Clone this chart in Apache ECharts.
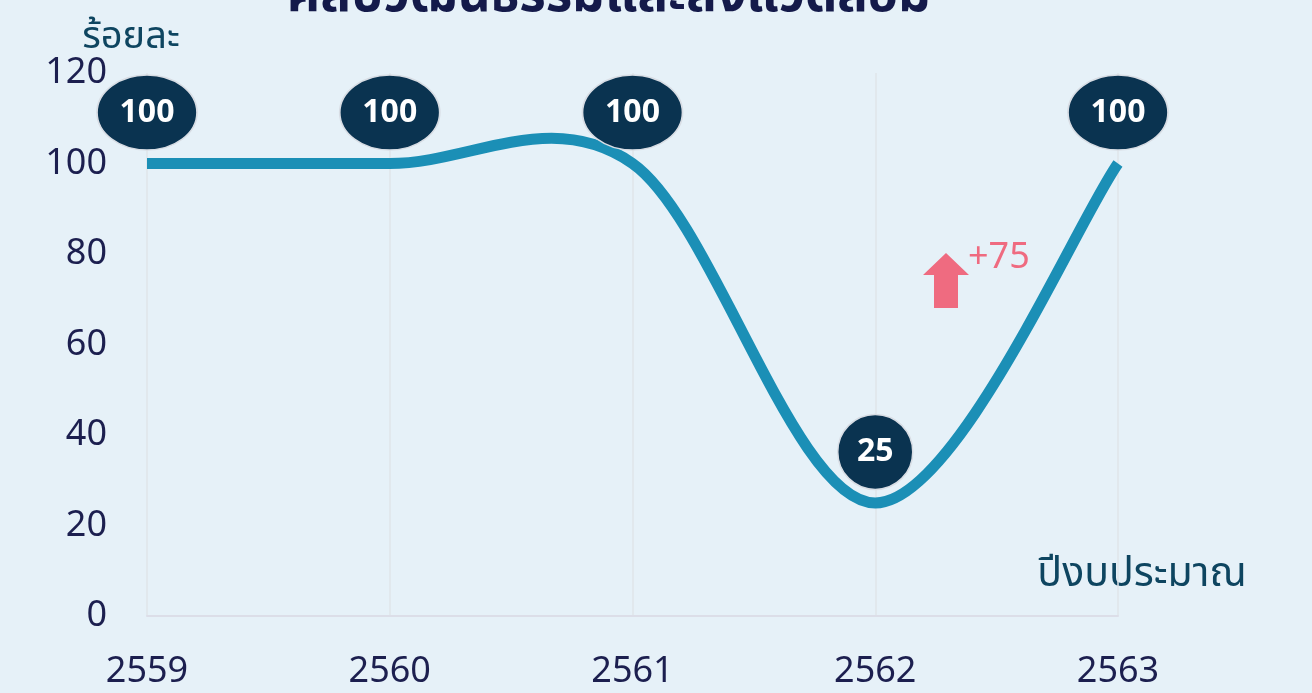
<!DOCTYPE html>
<html>
<head>
<meta charset="utf-8">
<script src="https://cdn.jsdelivr.net/npm/echarts@6/dist/echarts.min.js"></script>
<style>
	html, body { margin: 0; padding: 0; background: #e6f1f8; }
	#chart { width: 1312px; height: 693px; }
</style>
</head>
<body>
<div id="chart"></div>
<script>
// ข้อมูล
const years = ['2559', '2560', '2561', '2562', '2563'];
const percent = [100, 100, 100, 25, 100];
const yTicks = { min: 0, max: 120, step: 20 };
const titleText = 'ศิลปวัฒนธรรมและสิ่งแวดล้อม';
const yName = 'ร้อยละ';
const xName = 'ปีงบประมาณ';
const changeText = '+75';

(function() {
	let myChart = echarts.init(document.getElementById('chart'));

	const numFont = "'Noto Sans', 'Open Sans', sans-serif";
	const thaiFont = "'Noto Sans Thai', 'Noto Sans', 'Tahoma', sans-serif";

	// เส้นโค้งแบบ Excel (Catmull-Rom, ค่า 1/6) ผ่านพิกัดของแกน
	function renderSmooth(params, api) {
		if (params.dataIndex !== 0) {
			return;
		}
		let pts = percent.map(function(v, i) {
			return api.coord([i, v]);
		});
		let n = pts.length;
		let d = 'M' + pts[0][0] + ' ' + pts[0][1];
		for (let i = 0; i < n - 1; i++) {
			let p0 = pts[Math.max(i - 1, 0)];
			let p1 = pts[i];
			let p2 = pts[i + 1];
			let p3 = pts[Math.min(i + 2, n - 1)];
			let c1x = p1[0] + (p2[0] - p0[0]) / 6;
			let c1y = p1[1] + (p2[1] - p0[1]) / 6;
			let c2x = p2[0] - (p3[0] - p1[0]) / 6;
			let c2y = p2[1] - (p3[1] - p1[1]) / 6;
			d += ' C' + c1x + ' ' + c1y + ' ' + c2x + ' ' + c2y + ' ' + p2[0] + ' ' + p2[1];
		}
		return {
			type: 'path',
			shape: { pathData: d },
			style: {
				fill: 'none',
				stroke: '#1b8fb6',
				lineWidth: 11,
				lineCap: 'butt',
				lineJoin: 'round'
			}
		};
	}

	let option = {
		backgroundColor: '#e6f1f8',
		animation: false,
		grid: {
			left: 147,
			right: 194,
			top: 73,
			bottom: 77
		},
		xAxis: {
			type: 'category',
			boundaryGap: false,
			data: years,
			axisTick: { show: false },
			axisLine: {
				show: true,
				lineStyle: { color: '#dcdee8', width: 2 }
			},
			splitLine: {
				show: true,
				lineStyle: { color: '#dfe4ea', width: 1.5 }
			},
			axisLabel: {
				color: '#1c1f4f',
				fontSize: 36,
				fontFamily: numFont,
				margin: 38
			}
		},
		yAxis: {
			type: 'value',
			min: yTicks.min,
			max: yTicks.max,
			interval: yTicks.step,
			axisLine: { show: false },
			axisTick: { show: false },
			splitLine: { show: false },
			axisLabel: {
				color: '#1c1f4f',
				fontSize: 36,
				fontFamily: numFont,
				margin: 40
			}
		},
		series: [
			{
				name: yName,
				type: 'custom',
				z: 2,
				clip: false,
				renderItem: renderSmooth,
				encode: { x: 0, y: 1 },
				data: percent.map(function(v, i) {
					return [i, v];
				})
			},
			{
				// ป้ายตัวเลขรูปวงรี
				type: 'scatter',
				z: 5,
				symbol: 'circle',
				symbolSize: function(v) {
					return [String(v).length * 25 + 25, 75];
				},
				symbolOffset: [0, -51],
				itemStyle: {
					color: '#0a3350',
					opacity: 1,
					borderColor: '#d8dde4',
					borderWidth: 1.5
				},
				label: {
					show: true,
					position: 'inside',
					color: '#ffffff',
					fontSize: 32,
					fontWeight: 'bold',
					fontFamily: numFont
				},
				data: percent
			}
		],
		graphic: [
			{
				type: 'text',
				x: 609,
				y: 1,
				style: {
					text: titleText,
					fill: '#141a4a',
					font: "bold 51px " + thaiFont,
					align: 'center',
					verticalAlign: 'middle'
				}
			},
			{
				type: 'text',
				x: 131,
				y: 40,
				style: {
					text: yName,
					fill: '#0e4560',
					font: "38px " + thaiFont,
					align: 'center',
					verticalAlign: 'middle'
				}
			},
			{
				type: 'text',
				x: 1142,
				y: 578,
				style: {
					text: xName,
					fill: '#0e4560',
					font: "41px " + thaiFont,
					align: 'center',
					verticalAlign: 'middle'
				}
			},
			{
				type: 'polygon',
				shape: {
					points: [[946, 253], [969, 275], [958, 275], [958, 308], [934, 308], [934, 275], [923, 275]]
				},
				style: { fill: '#ef6b80' }
			},
			{
				type: 'text',
				x: 968,
				y: 258,
				style: {
					text: changeText,
					fill: '#ef6b80',
					font: "36px " + numFont,
					verticalAlign: 'middle'
				}
			}
		]
	};

	myChart.setOption(option);

	window.addEventListener('resize', function() {
		myChart.resize();
	});
})();
</script>
</body>
</html>
